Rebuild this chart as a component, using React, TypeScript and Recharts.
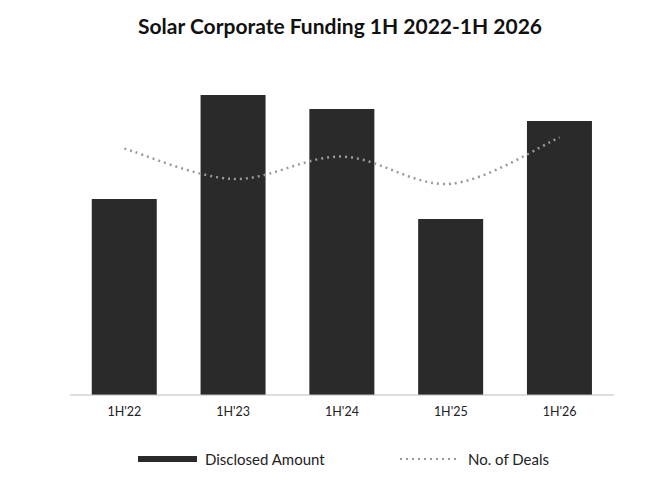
import React from "react";
import { ComposedChart, Bar, Line, XAxis, YAxis } from "recharts";

const periods = ["1H'22", "1H'23", "1H'24", "1H'25", "1H'26"];
const disclosedAmount = [4.9, 7.5, 7.15, 4.4, 6.85];
const numberOfDeals = [77, 67.5, 74.5, 66, 80.5];

const data = periods.map((p, i) => ({
  period: p,
  amount: disclosedAmount[i],
  deals: numberOfDeals[i],
}));

const FONT = "Lato, 'Open Sans', sans-serif";

// Catmull-Rom style smoothing, closer to the spreadsheet "smoothed line" look
function smoothCurve(context: any) {
  let pts: number[][] = [];
  return {
    areaStart() {},
    areaEnd() {},
    lineStart() {
      pts = [];
    },
    point(x: number, y: number) {
      pts.push([+x, +y]);
    },
    lineEnd() {
      if (!pts.length) return;
      context.moveTo(pts[0][0], pts[0][1]);
      for (let i = 0; i < pts.length - 1; i++) {
        const p0 = pts[i - 1] || pts[i];
        const p1 = pts[i];
        const p2 = pts[i + 1];
        const p3 = pts[i + 2] || p2;
        context.bezierCurveTo(
          p1[0] + (p2[0] - p0[0]) / 6,
          p1[1] + (p2[1] - p0[1]) / 6,
          p2[0] - (p3[0] - p1[0]) / 6,
          p2[1] - (p3[1] - p1[1]) / 6,
          p2[0],
          p2[1]
        );
      }
    },
  };
}

function LegendRow() {
  return (
    <div
      style={{
        position: "absolute",
        top: 449,
        left: 0,
        width: 670,
        height: 20,
        fontFamily: FONT,
        fontSize: 15,
        color: "#222",
      }}
    >
      <div style={{ position: "absolute", left: 138, top: 7, width: 59, height: 6, background: "#2a2a2a" }} />
      <span style={{ position: "absolute", left: 205, top: 0, lineHeight: "20px" }}>Disclosed Amount</span>
      <svg style={{ position: "absolute", left: 398, top: 6 }} width={64} height={8}>
        <line x1={2} y1={4} x2={62} y2={4} stroke="#9a9a9a" strokeWidth={2} strokeDasharray="2 4" />
      </svg>
      <span style={{ position: "absolute", left: 468, top: 0, lineHeight: "20px" }}>No. of Deals</span>
    </div>
  );
}

export default function App() {
  return (
    <div style={{ position: "fixed", top: 0, left: 0, width: 670, height: 484, background: "#fff" }}>
      <div
        style={{
          position: "absolute",
          top: 13,
          left: 0,
          width: 680,
          textAlign: "center",
          fontFamily: FONT,
          fontWeight: 700,
          fontSize: 21,
          color: "#111",
        }}
      >
        Solar Corporate Funding 1H 2022-1H 2026
      </div>
      <ComposedChart
        width={670}
        height={484}
        data={data}
        margin={{ top: 75, right: 56, left: 70, bottom: 59 }}
        barCategoryGap="20%"
      >
        <XAxis
          dataKey="period"
          axisLine={{ stroke: "#bdbdbd" }}
          tickLine={false}
          tickMargin={6}
          tick={{ fontSize: 12.5, fill: "#222", fontFamily: FONT }}
        />
        <YAxis yAxisId="amt" hide domain={[0, 8]} />
        <YAxis yAxisId="deals" hide orientation="right" domain={[0, 100]} />
        <Bar yAxisId="amt" dataKey="amount" fill="#2a2a2a" isAnimationActive={false} />
        <Line
          yAxisId="deals"
          type={smoothCurve as any}
          dataKey="deals"
          stroke="#9a9a9a"
          strokeWidth={2.5}
          strokeDasharray="2 4"
          dot={false}
          activeDot={false}
          isAnimationActive={false}
        />
      </ComposedChart>
      <LegendRow />
    </div>
  );
}
